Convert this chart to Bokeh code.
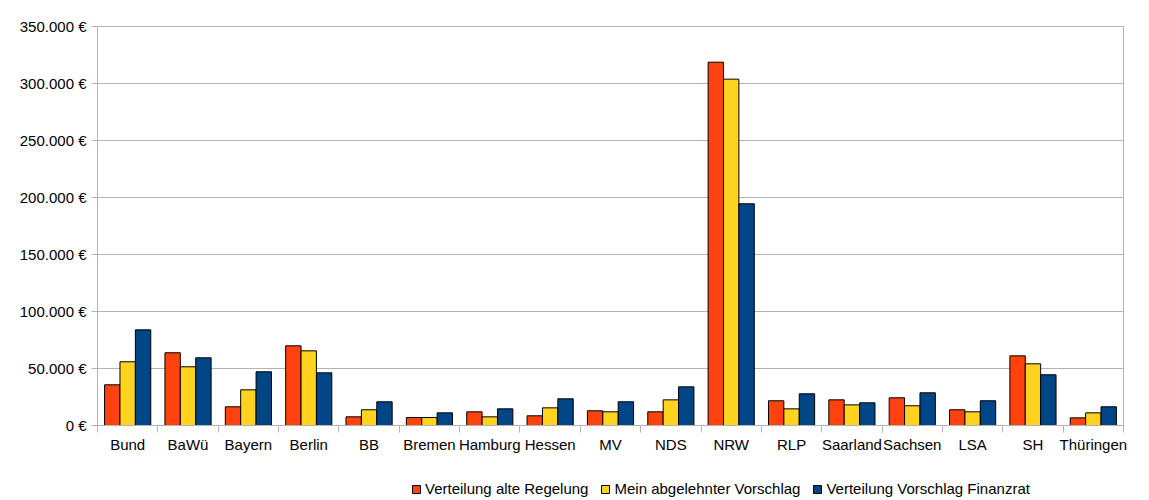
from bokeh.plotting import figure
from bokeh.models import ColumnDataSource, FixedTicker, Range1d, Legend
from bokeh.layouts import column
from bokeh.embed import file_html
from bokeh.resources import INLINE

# ---- data ----
categories = ["Bund", "BaWü", "Bayern", "Berlin", "BB", "Bremen", "Hamburg", "Hessen",
              "MV", "NDS", "NRW", "RLP", "Saarland", "Sachsen", "LSA", "SH", "Thüringen"]
alte_regelung = [35700, 63800, 16400, 69900, 7600, 7000, 12000, 8500,
                 12900, 12000, 318700, 21700, 22500, 24300, 13800, 61100, 6700]
mein_vorschlag = [55900, 51500, 31300, 65500, 13800, 7000, 7600, 15500,
                  12000, 22500, 303800, 14600, 18100, 17300, 12000, 54100, 11100]
finanzrat = [83900, 59400, 47100, 46200, 20800, 11100, 14600, 23400,
             20800, 33900, 194500, 27800, 19900, 28700, 21700, 44500, 16400]
series_names = ["Verteilung alte Regelung", "Mein abgelehnter Vorschlag",
                "Verteilung Vorschlag Finanzrat"]
series_colors = ["#ff420e", "#ffd320", "#004586"]
y_ticks = [0, 50000, 100000, 150000, 200000, 250000, 300000, 350000]
y_tick_labels = ["0 €", "50.000 €", "100.000 €", "150.000 €", "200.000 €",
                 "250.000 €", "300.000 €", "350.000 €"]

FONT = "Liberation Sans"
FSIZE = "15px"
GRAY = "#b3b3b3"
n = len(categories)

p = figure(width=1149, height=470, output_backend="svg", toolbar_location=None,
           x_range=Range1d(0, n), y_range=Range1d(0, 350000),
           min_border_left=97, min_border_right=26, min_border_top=26,
           min_border_bottom=45)
p.background_fill_color = "white"
p.border_fill_color = "white"
p.outline_line_color = GRAY

# legend strip (separate figure so the legend is not clipped)
pl = figure(width=1149, height=30, output_backend="svg", toolbar_location=None,
            x_range=Range1d(0, 1149), y_range=Range1d(-1, 0),
            x_axis_location=None, y_axis_location=None,
            min_border_left=0, min_border_right=0, min_border_top=0,
            min_border_bottom=0)
pl.outline_line_color = None
pl.grid.visible = False
pl.background_fill_color = "white"
pl.border_fill_color = "white"

bar_w = 0.255
offsets = [-bar_w, 0.0, bar_w]
items = []
for vals, name, col, off in zip([alte_regelung, mein_vorschlag, finanzrat],
                                series_names, series_colors, offsets):
    src = ColumnDataSource(dict(x=[i + 0.5 + off for i in range(n)], top=vals))
    p.vbar(x="x", top="top", width=bar_w, source=src, fill_color=col,
           line_color="black", line_width=1)
    # hidden twin renderer in the legend strip, only used for the legend swatch
    r = pl.vbar(x="x", top="top", width=bar_w, source=src, fill_color=col,
                line_color="black", line_width=1, visible=False)
    items.append((name, [r]))

# x axis
centers = [i + 0.5 for i in range(n)]
bounds = [float(i) for i in range(n + 1)]
xa = p.xaxis[0]
xa.ticker = FixedTicker(ticks=centers, minor_ticks=bounds)
xa.major_label_overrides = {c: lab for c, lab in zip(centers, categories)}
xa.major_tick_line_color = None
xa.major_tick_out = 6
xa.major_tick_in = 0
xa.minor_tick_line_color = GRAY
xa.minor_tick_out = 7
xa.minor_tick_in = 0
xa.axis_line_color = GRAY
xa.major_label_text_font = FONT
xa.major_label_text_font_size = FSIZE
xa.major_label_text_color = "black"
xa.major_label_standoff = 3

# y axis
ya = p.yaxis[0]
ya.ticker = FixedTicker(ticks=y_ticks, minor_ticks=[])
ya.major_label_overrides = {t: lab for t, lab in zip(y_ticks, y_tick_labels)}
ya.major_tick_line_color = GRAY
ya.major_tick_out = 6
ya.major_tick_in = 0
ya.minor_tick_line_color = None
ya.axis_line_color = GRAY
ya.major_label_text_font = FONT
ya.major_label_text_font_size = FSIZE
ya.major_label_text_color = "black"
ya.major_label_standoff = 5

p.xgrid.grid_line_color = None
p.ygrid.grid_line_color = GRAY
p.ygrid.ticker = FixedTicker(ticks=y_ticks)

lg = Legend(items=items, orientation="horizontal", location=(314, 3))
lg.border_line_color = None
lg.background_fill_alpha = 0
lg.padding = 0
lg.margin = 0
lg.spacing = 12
lg.glyph_width = 10
lg.glyph_height = 10
lg.label_standoff = 4
lg.label_height = 16
lg.label_text_font = FONT
lg.label_text_font_size = FSIZE
lg.label_text_color = "black"
pl.add_layout(lg, "center")

layout = column(p, pl, spacing=0)
open("out.html", "w").write(file_html(layout, INLINE))
